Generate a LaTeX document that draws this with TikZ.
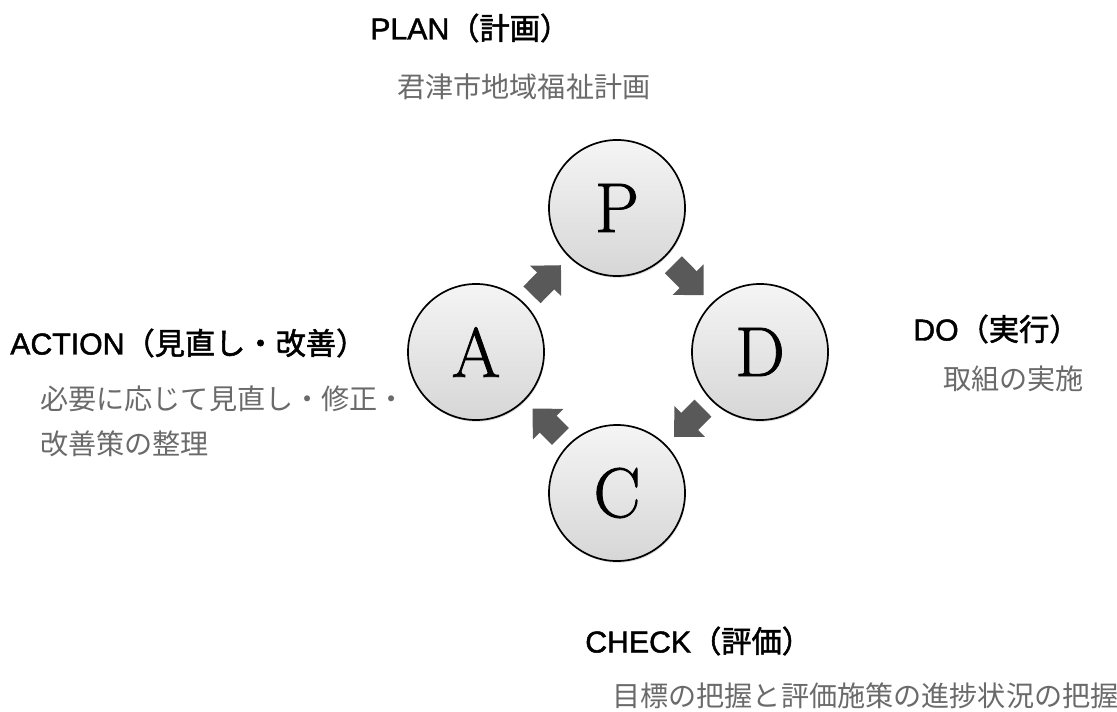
\documentclass[tikz,border=0pt]{standalone}
\usepackage{fontspec}
\newfontfamily\jpfont{Noto Sans CJK JP}
\newfontfamily\headjpfont[FakeBold=1.8]{Noto Sans CJK JP}
\newfontfamily\latfont[FakeBold=1.5]{Liberation Sans}
\newfontfamily\phasefont[FakeBold=1.2]{Latin Modern Roman}
\usepackage{xcolor}
\usepackage{tikz}
\usetikzlibrary{arrows.meta,shadows}

\definecolor{arrowgray}{HTML}{595959}
\definecolor{notegray}{HTML}{6A6A6A}
\newcommand{\lat}[1]{{\latfont\fontsize{21.5}{24}\selectfont #1}}

\begin{document}
\begin{tikzpicture}[
    x=0.025cm, y=-0.025cm,
    phase/.style={circle, draw, line width=1.2pt, minimum size=3.4cm, inner sep=0pt, outer sep=0pt, top color=gray!8, bottom color=gray!32, font=\phasefont\fontsize{50}{50}\selectfont, drop shadow={shadow xshift=0.6pt, shadow yshift=-1.2pt, opacity=0.3}},
    heading/.style={anchor=west, inner sep=0pt, font=\headjpfont\fontsize{21.5}{24}\selectfont},
    note/.style={anchor=west, inner sep=0pt, text=notegray, align=left, font=\jpfont\fontsize{20}{32}\selectfont},
    turnarrow/.style={line width=0.6cm, arrowgray, -{Triangle[length=0.55cm,width=1.05cm]}, shorten <=0.3cm, shorten >=0.3cm}
]
\useasboundingbox (0,0) rectangle (1117,711);

% the four phases
\node[phase] (p) at (617,208) {P};
\node[phase] (d) at (760,352) {D};
\node[phase] (c) at (617,493) {C};
\node[phase] (a) at (476,352) {A};

\draw[turnarrow] (a) -- (p);
\draw[turnarrow] (p) -- (d);
\draw[turnarrow] (d) -- (c);
\draw[turnarrow] (c) -- (a);

% labels
\node[heading] (planhead) at (370,28) {\lat{PLAN}（計画）};
\node[note] (plannote) at (397,87) {君津市地域福祉計画};
\node[heading] (dohead) at (913,329) {\lat{DO}（実行）};
\node[note] (donote) at (943,379) {取組の実施};
\node[heading] (checkhead) at (585,641) {\lat{CHECK}（評価）};
\node[note] (checknote) at (612,696) {目標の把握と評価施策の進捗状況の把握};
\node[heading] (actionhead) at (10,343) {\lat{ACTION}（見直し・改善）};
\node[note] (actionnote) at (40,421) {必要に応じて見直し・修正・\\改善策の整理};
\end{tikzpicture}
\end{document}
